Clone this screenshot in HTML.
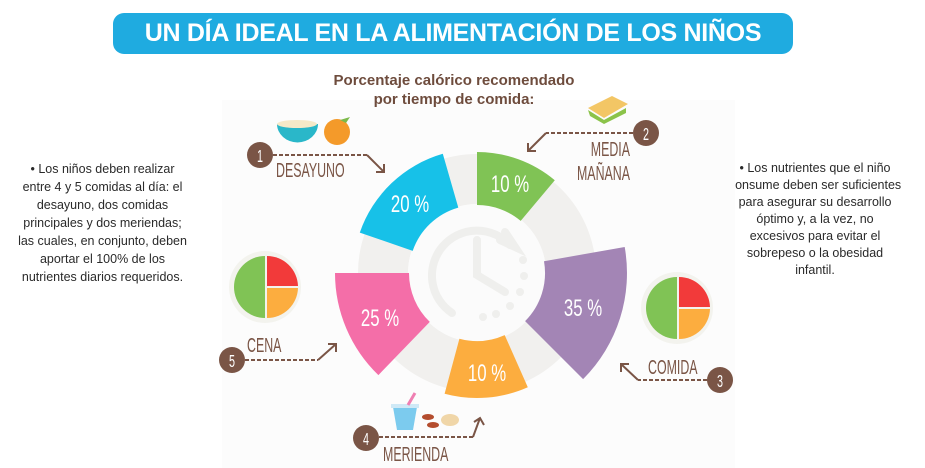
<!DOCTYPE html>
<html><head><meta charset="utf-8"><style>
html,body{margin:0;padding:0;background:#fff;width:925px;height:468px;overflow:hidden;font-family:"Liberation Sans",sans-serif}
.side{position:absolute;text-align:center;color:#2a2a2a;font-size:12.5px;line-height:18px;white-space:nowrap}
</style></head><body>
<div style="position:absolute;left:113px;top:13px;width:680px;height:41px;background:#1fabe0;border-radius:11px;color:#fff;font-weight:bold;font-size:25px;line-height:41px;text-align:center;letter-spacing:-0.3px">UN DÍA IDEAL EN LA ALIMENTACIÓN DE LOS NIÑOS</div>
<div class="side" style="left:0;top:160px;width:205px">• Los niños deben realizar<br>entre 4 y 5 comidas al día: el<br>desayuno, dos comidas<br>principales y dos meriendas;<br>las cuales, en conjunto, deben<br>aportar el 100% de los<br>nutrientes diarios requeridos.</div>
<div class="side" style="left:705px;top:160px;width:220px;line-height:17px">• Los nutrientes que el niño<br>consume deben ser suficientes<br>para asegurar su desarrollo<br>óptimo y, a la vez, no<br>excesivos para evitar el<br>sobrepeso o la obesidad<br>infantil.</div>
<svg width="925" height="468" style="position:absolute;left:0;top:0" font-family="Liberation Sans, sans-serif">
<rect x="222" y="100" width="513" height="368" fill="#fcfcfc"/>
<text x="454" y="85" text-anchor="middle" font-size="15" font-weight="bold" fill="#6e4c3d">Porcentaje calórico recomendado</text>
<text x="454" y="104" text-anchor="middle" font-size="15" font-weight="bold" fill="#6e4c3d">por tiempo de comida:</text>
<circle cx="477" cy="273" r="94" fill="none" stroke="#f1f0ee" stroke-width="50"/>
<circle cx="477" cy="273" r="69" fill="#fbfbfb"/>
<g fill="none" stroke="#efefed" stroke-width="8" stroke-linecap="round">
<path d="M510,245 A45,45 0 1 0 452,313"/>
<path d="M477,240 L477,275 L505,292"/>
<path d="M500,240 L515,247 L505,232"/>
</g>
<g fill="#efefed"><circle cx="523" cy="260" r="4"/><circle cx="524" cy="276" r="4"/><circle cx="520" cy="292" r="4"/><circle cx="510" cy="306" r="4"/><circle cx="496" cy="314" r="4"/><circle cx="483" cy="317" r="4"/></g>
<path d="M359.8,232.6 A124,124 0 0 1 442.8,153.8 L458.3,207.6 A68,68 0 0 0 412.7,250.9 Z" fill="#17c1e8"/>
<path d="M477,152 A121,121 0 0 1 554.8,180.3 L520.7,220.9 A68,68 0 0 0 477,205 Z" fill="#80c355"/>
<path d="M624.7,247 A150,150 0 0 1 583.1,379.1 L525.1,321.1 A68,68 0 0 0 544,261.2 Z" fill="#a385b5"/>
<path d="M527.8,387.2 A125,125 0 0 1 444.6,393.7 L459.4,338.7 A68,68 0 0 0 504.7,335.1 Z" fill="#fcad3f"/>
<path d="M378.4,375.1 A142,142 0 0 1 335,273 L409,273 A68,68 0 0 0 429.8,321.9 Z" fill="#f46ea8"/>
<g fill="#fff" font-size="24" text-anchor="middle">
<text transform="translate(410,212) scale(0.7,1)">20 %</text>
<text transform="translate(510,192) scale(0.7,1)">10 %</text>
<text transform="translate(583,316) scale(0.7,1)">35 %</text>
<text transform="translate(487,381) scale(0.7,1)">10 %</text>
<text transform="translate(380,326) scale(0.7,1)">25 %</text>
</g>
<g fill="#7a5546" font-size="20">
<text transform="translate(276,177) scale(0.62,1)">DESAYUNO</text>
<text transform="translate(630,156) scale(0.62,1)" text-anchor="end">MEDIA</text>
<text transform="translate(630,180) scale(0.62,1)" text-anchor="end">MAÑANA</text>
<text transform="translate(648,374) scale(0.62,1)">COMIDA</text>
<text transform="translate(383,461) scale(0.62,1)">MERIENDA</text>
<text transform="translate(247,352) scale(0.62,1)">CENA</text>
</g>
<g fill="#7a5546"><circle cx="260" cy="155" r="13"/><circle cx="646" cy="133" r="13"/><circle cx="720" cy="380" r="13"/><circle cx="366" cy="438" r="13"/><circle cx="232" cy="360" r="13"/></g>
<g fill="#fff" font-size="18" text-anchor="middle">
<text transform="translate(260,162) scale(0.6,1)">1</text>
<text transform="translate(646,140) scale(0.6,1)">2</text>
<text transform="translate(720,387) scale(0.6,1)">3</text>
<text transform="translate(366,445) scale(0.6,1)">4</text>
<text transform="translate(232,367) scale(0.6,1)">5</text>
</g>
<g fill="none" stroke="#7a5546" stroke-width="2">
<path d="M273,155 L367,155" stroke-dasharray="4,2"/><path d="M367,155 L384,172 M376,172 L384,172 L384,164"/>
<path d="M633,133 L546,133" stroke-dasharray="4,2"/><path d="M546,133 L528,151 M528,143 L528,151 L536,151"/>
<path d="M707,380 L638,380" stroke-dasharray="4,2"/><path d="M638,380 L621,364 M621,372 L621,364 L629,364"/>
<path d="M379,437 L473,437" stroke-dasharray="4,2"/><path d="M473,437 L480,418 M474,422 L480,418 L484,425"/>
<path d="M245,360 L318,360" stroke-dasharray="4,2"/><path d="M318,360 L336,344 M328,344 L336,344 L336,352"/>
</g>
<g><circle cx="265" cy="287" r="36" fill="#f3f3ee"/><path d="M265,256 A31,31 0 0 0 265,318 Z" fill="#80c355"/><path d="M267,256 A31,31 0 0 1 298,286 L267,286 Z" fill="#f23a3a"/><path d="M267,288 L298,288 A31,31 0 0 1 267,318 Z" fill="#fcad3f"/></g>
<g><circle cx="677" cy="308" r="36" fill="#f3f3ee"/><path d="M677,277 A31,31 0 0 0 677,339 Z" fill="#80c355"/><path d="M679,277 A31,31 0 0 1 710,307 L679,307 Z" fill="#f23a3a"/><path d="M679,309 L710,309 A31,31 0 0 1 679,339 Z" fill="#fcad3f"/></g>
<path d="M277,124 L318,124 A20,18 0 0 1 277,124 Z" fill="#2ab7c9"/><ellipse cx="297" cy="124" rx="20" ry="4" fill="#f6e9c8"/>
<circle cx="337" cy="132" r="13" fill="#f49a2a"/><path d="M340,120 L350,117 L346,123 Z" fill="#7cba4b"/>
<path d="M588,108 L612,96 L628,104 L604,118 Z" fill="#f3c665"/><path d="M588,110 L604,120 L626,108 L626,113 L604,124 L590,116 Z" fill="#8bc34a"/>
<path d="M393,407 L417,407 L413,430 L397,430 Z" fill="#7ccbee"/><rect x="391" y="404" width="28" height="4" fill="#cfe9f6"/><path d="M408,405 L415,393" stroke="#ef7fb2" stroke-width="3"/>
<ellipse cx="428" cy="417" rx="6" ry="3" fill="#b44d2e"/><ellipse cx="433" cy="425" rx="6" ry="3" fill="#b44d2e"/><ellipse cx="450" cy="420" rx="9" ry="6" fill="#f0d6a8"/>
</svg>
</body></html>
